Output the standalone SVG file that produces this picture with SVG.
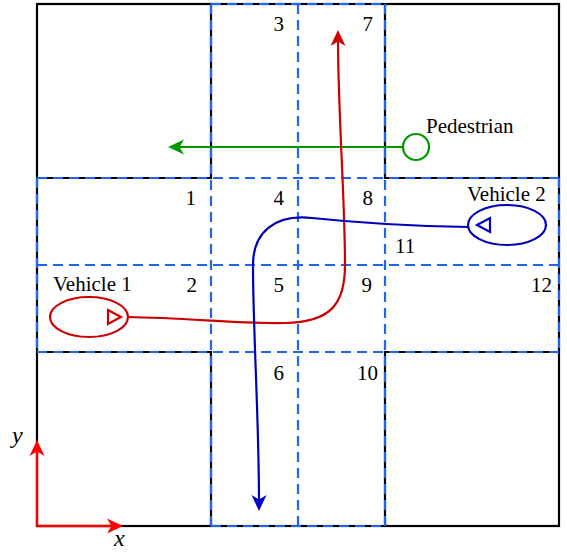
<svg xmlns="http://www.w3.org/2000/svg" width="567" height="553" viewBox="0 0 567 553">
<defs>
<marker id="aRed" markerUnits="userSpaceOnUse" markerWidth="20" markerHeight="20" refX="-10" refY="0" orient="auto" overflow="visible"><path d="M0,0 L-16,-7.5 L-11.5,0 L-16,7.5 Z" fill="#cc0000"/></marker>
<marker id="aBlue" markerUnits="userSpaceOnUse" markerWidth="20" markerHeight="20" refX="-10" refY="0" orient="auto" overflow="visible"><path d="M0,0 L-16,-7.5 L-11.5,0 L-16,7.5 Z" fill="#0000cc"/></marker>
<marker id="aGreen" markerUnits="userSpaceOnUse" markerWidth="20" markerHeight="20" refX="-10" refY="0" orient="auto" overflow="visible"><path d="M0,0 L-16,-7.5 L-11.5,0 L-16,7.5 Z" fill="#009900"/></marker>
<marker id="aAx" markerUnits="userSpaceOnUse" markerWidth="20" markerHeight="20" refX="-10" refY="0" orient="auto" overflow="visible"><path d="M0,0 L-16,-7.5 L-11.5,0 L-16,7.5 Z" fill="#ff0000"/></marker>
</defs>
<rect width="567" height="553" fill="#fff"/>
<g id="road" fill="none" stroke-width="2.2">
<rect stroke="#000" x="37" y="4" width="522" height="522"/>
<path stroke="#000" d="M211,4V178H37M385,4V178H559M211,526V352H37M385,526V352H559"/>
<path stroke="#1f64f5" stroke-dasharray="10 6" d="M211,4V526M298,4V526M385,4V526M37,178H559M37,265H559M37,352H559M211,4H385M211,526H385M37,178V352M559,178V352"/>
</g>
<g id="cells">
<text x="284" y="31" font-family="Liberation Serif" font-size="21" text-anchor="end">3</text>
<text x="373" y="31" font-family="Liberation Serif" font-size="21" text-anchor="end">7</text>
<text x="196" y="205" font-family="Liberation Serif" font-size="21" text-anchor="end">1</text>
<text x="284" y="205" font-family="Liberation Serif" font-size="21" text-anchor="end">4</text>
<text x="373" y="205" font-family="Liberation Serif" font-size="21" text-anchor="end">8</text>
<text x="395" y="253" font-family="Liberation Serif" font-size="21">11</text>
<text x="197" y="292" font-family="Liberation Serif" font-size="21" text-anchor="end">2</text>
<text x="284" y="292" font-family="Liberation Serif" font-size="21" text-anchor="end">5</text>
<text x="372" y="292" font-family="Liberation Serif" font-size="21" text-anchor="end">9</text>
<text x="552" y="292" font-family="Liberation Serif" font-size="21" text-anchor="end">12</text>
<text x="284" y="380" font-family="Liberation Serif" font-size="21" text-anchor="end">6</text>
<text x="378" y="380" font-family="Liberation Serif" font-size="21" text-anchor="end">10</text>
</g>
<g id="pedestrian">
<circle cx="416" cy="147" r="13" fill="none" stroke="#009900" stroke-width="2.2"/>
<text x="426" y="133" font-family="Liberation Serif" font-size="21">Pedestrian</text>
</g>
<g id="vehicle1">
<ellipse cx="89" cy="317" rx="39" ry="20" fill="none" stroke="#cc0000" stroke-width="2.2"/>
<path d="M108,310 L121,317 L108,324 Z" fill="none" stroke="#cc0000" stroke-width="2.2"/>
<text x="53" y="291" font-family="Liberation Serif" font-size="21">Vehicle 1</text>
</g>
<g id="vehicle2">
<ellipse cx="507" cy="225" rx="39" ry="20" fill="none" stroke="#0000bb" stroke-width="2.2"/>
<path d="M477,225 L490,218 L490,232 Z" fill="none" stroke="#0000bb" stroke-width="2.2"/>
<text x="467" y="201" font-family="Liberation Serif" font-size="21">Vehicle 2</text>
</g>
<g id="axes">
<path d="M37,526V450" stroke="#ff0000" stroke-width="2.4" fill="none" marker-end="url(#aAx)"/>
<path d="M37,526H113" stroke="#ff0000" stroke-width="2.4" fill="none" marker-end="url(#aAx)"/>
<text x="12" y="443" font-family="Liberation Serif" font-size="24" font-style="italic">y</text>
<text x="114" y="546" font-family="Liberation Serif" font-size="24" font-style="italic">x</text>
</g>
<g id="connectors" fill="none" stroke-width="2.2">
<path d="M403,147H178" stroke="#009900" marker-end="url(#aGreen)"/>
<path d="M128,317 C190,318 240,324 285,323 C330,322 345,305 345,265 C345,200 338,110 338,40" stroke="#cc0000" marker-end="url(#aRed)"/>
<path d="M468,227 C400,226 350,222 312,218 C275,214 253,232 253,265 C253,330 259,420 259,501" stroke="#0000bb" marker-end="url(#aBlue)"/>
</g>
</svg>
